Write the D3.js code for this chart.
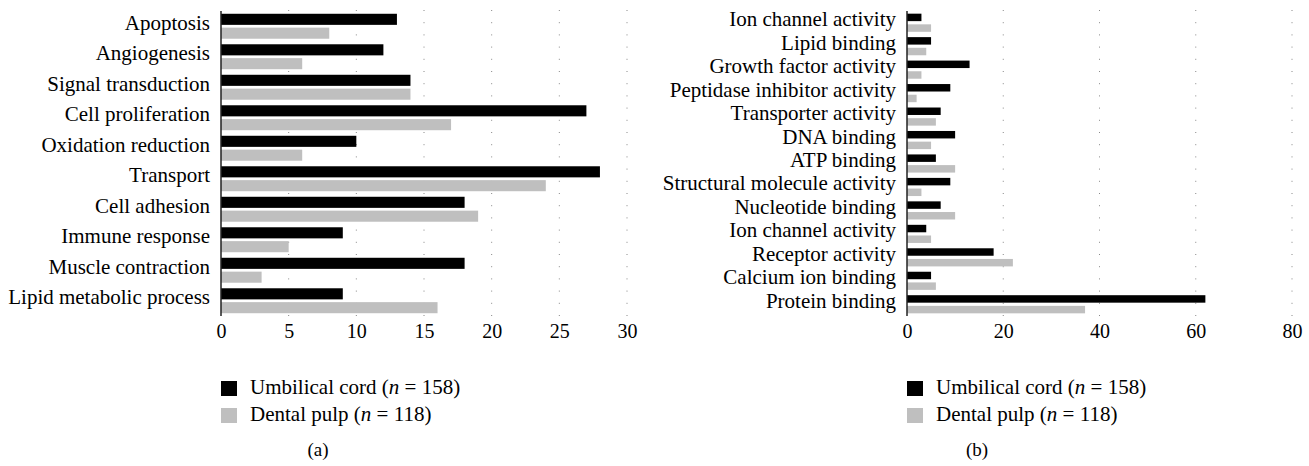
<!DOCTYPE html>
<html>
<head>
<meta charset="utf-8">
<script src="https://cdn.jsdelivr.net/npm/d3@7"></script>
<style>
  body { margin: 0; background: #fff; }
  svg text { font-family: "Liberation Serif", "DejaVu Serif", serif; fill: #000; }
</style>
</head>
<body>
<script>
// panel (a): biological process
const catsA = ["Apoptosis", "Angiogenesis", "Signal transduction", "Cell proliferation",
  "Oxidation reduction", "Transport", "Cell adhesion", "Immune response",
  "Muscle contraction", "Lipid metabolic process"];
const cordA = [13, 12, 14, 27, 10, 28, 18, 9, 18, 9];
const pulpA = [8, 6, 14, 17, 6, 24, 19, 5, 3, 16];
const ticksA = [0, 5, 10, 15, 20, 25, 30];

// panel (b): molecular function
const catsB = ["Ion channel activity", "Lipid binding", "Growth factor activity",
  "Peptidase inhibitor activity", "Transporter activity", "DNA binding", "ATP binding",
  "Structural molecule activity", "Nucleotide binding", "Ion channel activity ",
  "Receptor activity", "Calcium ion binding", "Protein binding"];
const cordB = [3, 5, 13, 9, 7, 10, 6, 9, 7, 4, 18, 5, 62];
const pulpB = [5, 4, 3, 2, 6, 5, 10, 3, 10, 5, 22, 6, 37];
const ticksB = [0, 20, 40, 60, 80];

const seriesNames = ["Umbilical cord", "Dental pulp"];
const seriesN = [158, 118];
const colors = ["#000000", "#bfbfbf"];

const svg = d3.select("body").append("svg")
  .attr("width", 1309)
  .attr("height", 466);

function panel(opt) {
  const g = svg.append("g");
  const x = d3.scaleLinear().domain(opt.domain).range([opt.x0, opt.x1]);
  const y = d3.scaleBand().domain(opt.cats.map((c, i) => i)).range([11, 316]);
  const sub = d3.scaleBand().domain([0, 1]).range([0, y.bandwidth()])
    .paddingInner(opt.pin).paddingOuter(opt.pout);

  // dotted grid
  g.selectAll(".grid").data(opt.ticks.slice(1)).enter().append("line")
    .attr("x1", d => x(d)).attr("x2", d => x(d))
    .attr("y1", 10).attr("y2", 316)
    .attr("stroke", "#888").attr("stroke-width", 1)
    .attr("stroke-dasharray", "1 11.2");

  const rows = g.selectAll(".row").data(opt.cats).enter().append("g")
    .attr("transform", (d, i) => "translate(0," + y(i) + ")");

  [opt.cord, opt.pulp].forEach((vals, s) => {
    rows.append("rect")
      .attr("x", x(0))
      .attr("y", sub(s))
      .attr("width", (d, i) => x(vals[i]) - x(0))
      .attr("height", sub.bandwidth())
      .attr("fill", colors[s]);
  });

  rows.append("text")
    .attr("x", x(0) - 11)
    .attr("y", y.bandwidth() / 2 + 3.5)
    .attr("text-anchor", "end")
    .style("font-size", "21px")
    .text(d => d.trim());

  // axis line
  g.append("line")
    .attr("x1", x(0)).attr("x2", x(0))
    .attr("y1", 11).attr("y2", 316)
    .attr("stroke", "#222").attr("stroke-width", 1.5);

  const ax = d3.axisBottom(x).tickValues(opt.ticks).tickSize(0).tickPadding(0);
  const axg = g.append("g").attr("transform", "translate(0,324)").call(ax);
  axg.select(".domain").remove();
  axg.selectAll("text")
    .attr("dy", "0.71em")
    .style("font-size", "20px")
    .style("font-family", "Liberation Serif, serif")
    .attr("fill", "#000");

  // legend
  seriesNames.forEach((name, s) => {
    g.append("rect")
      .attr("x", x(0)).attr("y", 381 + s * 27)
      .attr("width", 16).attr("height", 15)
      .attr("fill", colors[s]);
    const t = g.append("text")
      .attr("x", x(0) + 29).attr("y", 394 + s * 27)
      .style("font-size", "21px");
    t.append("tspan").text(name + " (");
    t.append("tspan").style("font-style", "italic").text("n");
    t.append("tspan").text(" = " + seriesN[s] + ")");
  });

  g.append("text")
    .attr("x", opt.capX).attr("y", 456)
    .attr("text-anchor", "middle")
    .style("font-size", "19px")
    .text(opt.caption);
}

panel({ cats: catsA, cord: cordA, pulp: pulpA, ticks: ticksA, domain: [0, 30],
  x0: 221, x1: 627, pin: 0.2, pout: 0.2, caption: "(a)", capX: 318 });
panel({ cats: catsB, cord: cordB, pulp: pulpB, ticks: ticksB, domain: [0, 80],
  x0: 907, x1: 1292, pin: 0.3, pout: 0.25, caption: "(b)", capX: 977 });
</script>
</body>
</html>
